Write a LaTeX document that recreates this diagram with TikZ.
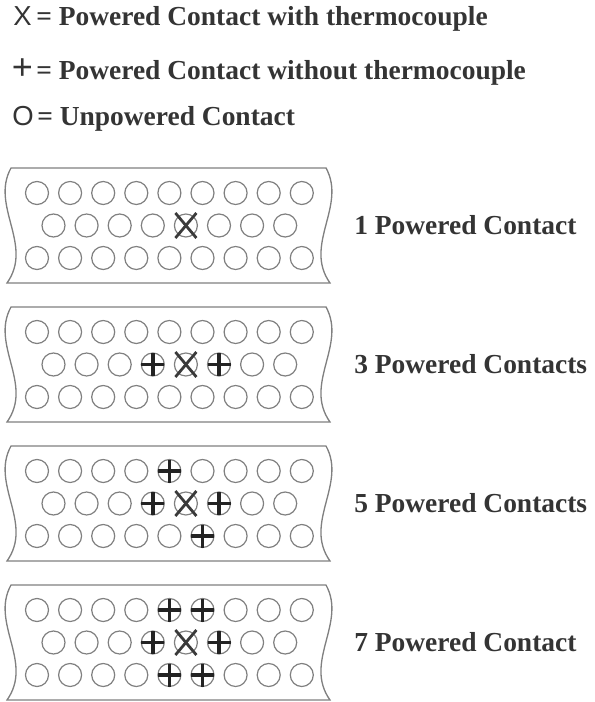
\documentclass[tikz,border=0pt]{standalone}
\usepackage{fontspec}
\setmainfont{Liberation Serif}
\newfontfamily\symfont{Liberation Sans}
\usepackage{xcolor}
\usetikzlibrary{calc}
\definecolor{ctgray}{RGB}{128,128,128}
\definecolor{ctdark}{RGB}{58,58,58}
\definecolor{ctplus}{RGB}{35,35,35}
\definecolor{cttext}{RGB}{52,52,52}

\begin{document}
\begin{tikzpicture}[x=0.75pt,y=-0.75pt,
  contact/.style={circle, draw=ctgray, line width=0.9pt, minimum size=17.25pt, inner sep=0pt, outer sep=0pt},
  panel/.style={draw=ctgray, line width=1pt},
  tcmark/.style={draw=ctdark, line width=2.1pt},
  plusmark/.style={draw=ctplus, line width=2.6pt},
  bigtext/.style={text=cttext, font=\bfseries\fontsize{20.6}{24}\selectfont, inner sep=0pt, anchor=base west},
  symtext/.style={text=cttext, font=\symfont\fontsize{20.6}{24}\selectfont, inner sep=0pt, anchor=base}]
\useasboundingbox (0,0) rectangle (594,702);
% legend
\node[symtext] (symX) at (22.5,26) {X};
\node[bigtext] (legX) at (36,26) {= Powered Contact with thermocouple};
\node[symtext, font=\symfont\fontsize{27}{28}\selectfont] (symP) at (22.5,80) {+};
\node[bigtext] (legP) at (36,80) {= Powered Contact without thermocouple};
\node[symtext] (symO) at (23,126) {O};
\node[bigtext] (legO) at (37,126) {= Unpowered Contact};
% connector panels
\foreach \ytop/\lbl [count=\p] in {168/1 Powered Contact,307/3 Powered Contacts,446/5 Powered Contacts,585/7 Powered Contact} {
  \draw[panel] (11,\ytop) -- (326,\ytop)
    .. controls (347,\ytop+38) and (303,\ytop+77) .. (330,\ytop+115) -- (7,\ytop+115)
    .. controls (34,\ytop+77) and (-10,\ytop+38) .. cycle;
  \foreach \k in {0,...,8} {
    \node[contact] (p\p-a\k) at ({37+33.1*\k},\ytop+25) {};
    \node[contact] (p\p-c\k) at ({37+33.1*\k},\ytop+90) {};
  }
  \foreach \k in {0,...,7}
    \node[contact] (p\p-b\k) at ({53.5+33.1*\k},\ytop+57.5) {};
  \node[bigtext] (lab\p) at (354,\ytop+66) {\lbl};
}
% thermocouple contact
\foreach \p in {1,...,4} {
  \draw[tcmark] ($(p\p-b4)+(-10.5,-12.5)$) -- ($(p\p-b4)+(10.5,12.5)$);
  \draw[tcmark] ($(p\p-b4)+(-10.5,12.5)$) -- ($(p\p-b4)+(10.5,-12.5)$);
}
% powered contacts
\foreach \cn in {p2-b3,p2-b5,p3-a4,p3-b3,p3-b5,p3-c5,p4-a4,p4-a5,p4-b3,p4-b5,p4-c4,p4-c5}
  \draw[plusmark] (\cn.west) -- (\cn.east) (\cn.north) -- (\cn.south);
\end{tikzpicture}
\end{document}
